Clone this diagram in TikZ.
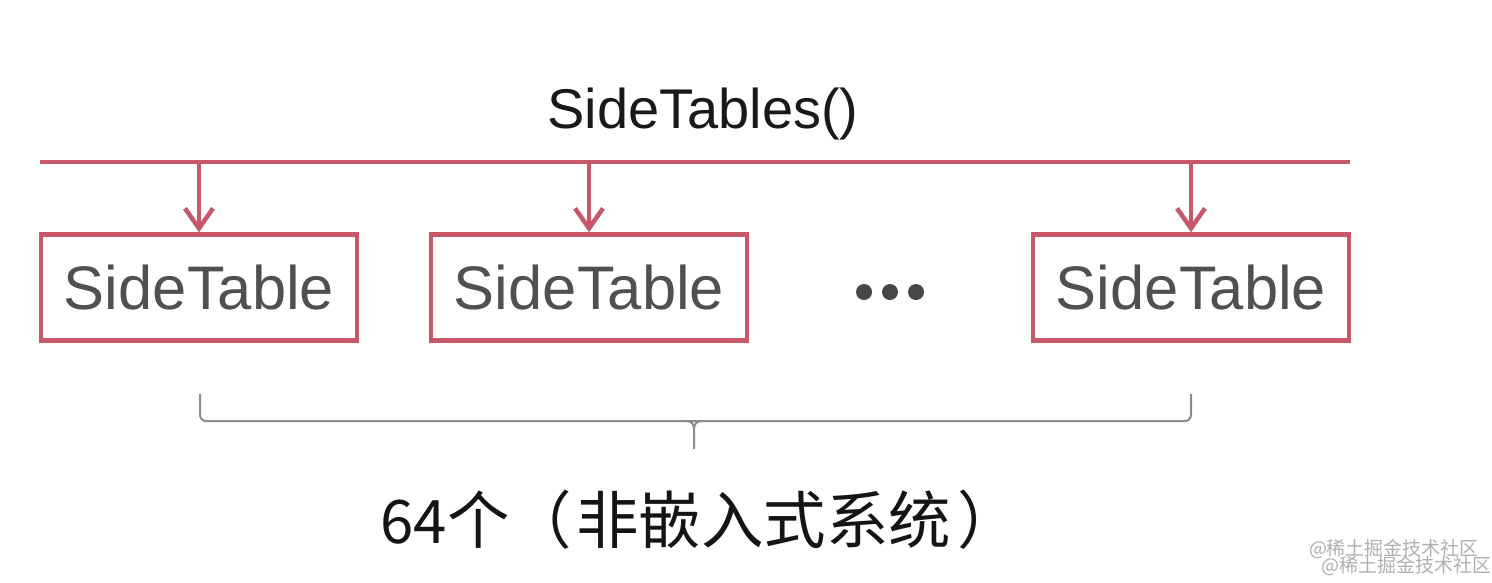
\documentclass[tikz,border=0pt]{standalone}
\usepackage{fontspec}
\setmainfont{Liberation Sans}
\newfontfamily\cjk{Noto Sans CJK SC}
\usetikzlibrary{arrows.meta}
\definecolor{busred}{RGB}{199,88,103}
\definecolor{boxtext}{RGB}{80,80,80}
\definecolor{bracegray}{RGB}{140,140,140}
\definecolor{wmgray}{RGB}{175,175,175}
\tikzset{
  tablebox/.style={draw=busred, line width=4.5pt, minimum width=316pt, minimum height=106pt,
    inner sep=0pt, text=boxtext, font=\fontsize{61.5}{66}\selectfont},
  busline/.style={draw=busred, line width=4.5pt},
  feed/.style={draw=busred, line width=4.5pt, -{Straight Barb[length=20pt,width=28pt]}},
  dotmark/.style={circle, fill=black!72, minimum size=16pt, inner sep=0pt},
  bracepath/.style={draw=bracegray, line width=2pt, rounded corners=6pt},
  watermark/.style={text=wmgray, inner sep=0pt, font=\cjk\fontsize{19}{20}\selectfont}
}
\begin{document}
\begin{tikzpicture}[x=1pt, y=-1pt]
\useasboundingbox (0,0) rectangle (1492,582);
% title
\node[anchor=base, inner sep=0pt, text=black!90, font=\fontsize{56}{60}\selectfont] (title) at (703,128) {SideTables()};
% bus
\coordinate (busL) at (40,162);
\coordinate (busR) at (1350,162);
\draw[busline] (busL) -- (busR);
% boxes
\node[tablebox] (b1) at (199,287.5) {\raisebox{-3pt}{SideTable}};
\node[tablebox] (b2) at (589,287.5) {\raisebox{-3pt}{SideTable}};
\node[tablebox] (b3) at (1191,287.5) {\raisebox{-3pt}{SideTable}};
% arrows
\draw[feed] (b1.north |- busL) -- (b1.north);
\draw[feed] (b2.north |- busL) -- (b2.north);
\draw[feed] (b3.north |- busL) -- (b3.north);
% dots
\node[dotmark] (d1) at (864,292) {};
\node[dotmark] (d2) at (890,292) {};
\node[dotmark] (d3) at (916,292) {};
% brace
\coordinate (brL) at (200,394);
\coordinate (brR) at (1191,394);
\coordinate (brTip) at (694,449);
\draw[bracepath] (brL) -- (200,421) -- (694,421);
\draw[bracepath] (brR) -- (1191,421) -- (694,421);
\draw[draw=bracegray, line width=2pt] (686,421) .. controls (692,421) and (694,424) .. (694,430) -- (brTip);
\draw[draw=bracegray, line width=2pt] (702,421) .. controls (696,421) and (694,424) .. (694,430);
% caption
\node[inner sep=0pt, text=black!92, font=\cjk\fontsize{62}{66}\selectfont] (cap) at (700,520) {\fontsize{60}{66}\selectfont 64\fontsize{62.5}{66}\selectfont 个（\hspace{4pt}非嵌入式系统\hspace{6pt}）};
% watermark
\node[watermark] (wm1) at (1394,549) {@稀土掘金技术社区};
\node[watermark] (wm2) at (1406,566) {@稀土掘金技术社区};
\end{tikzpicture}
\end{document}
